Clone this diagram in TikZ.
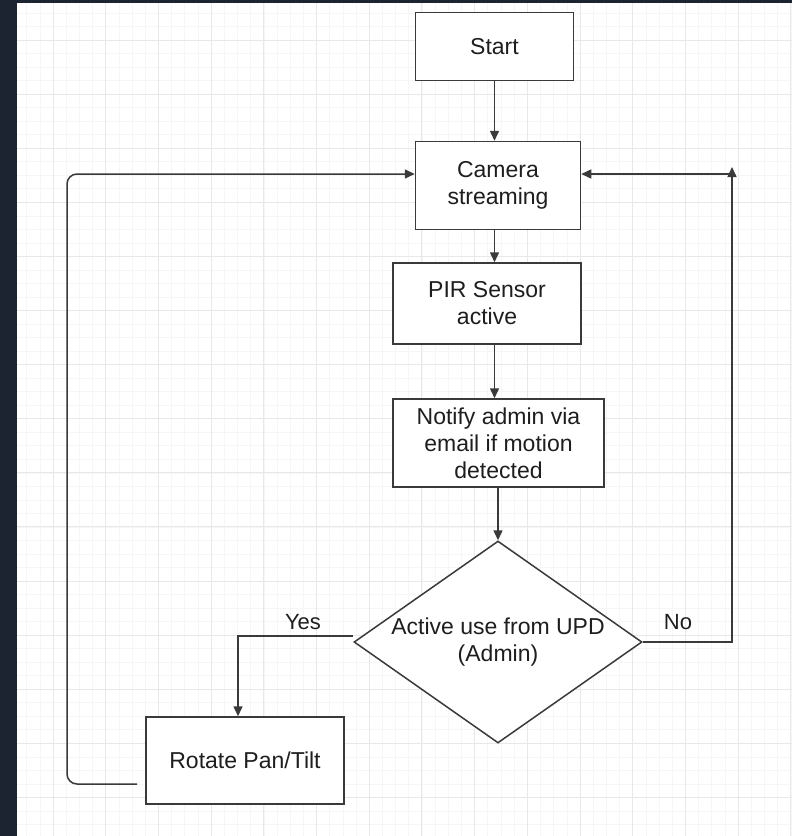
\documentclass[tikz,border=0pt]{standalone}
\usepackage{fontspec}
\setmainfont{Liberation Sans}
\usetikzlibrary{shapes.geometric,arrows.meta}
\definecolor{frame}{HTML}{1C2331}
\definecolor{gridmajor}{HTML}{E8E8E8}
\definecolor{gridminor}{HTML}{F6F6F6}
\definecolor{linecol}{HTML}{3A3A3A}
\definecolor{txt}{HTML}{1E1E1E}
\tikzset{
  box/.style={draw=linecol, line width=1.5pt, fill=white, rectangle, inner sep=0pt,
    align=center, text=txt, font=\fontsize{23}{27}\selectfont},
  decision/.style={draw=linecol, line width=1.5pt, fill=white, diamond, inner sep=0pt,
    align=center, text=txt, font=\fontsize{23}{27}\selectfont,
    minimum width=288pt, minimum height=202pt, aspect=1.426},
  arr/.style={draw=linecol, line width=1.5pt, -{Triangle[length=10pt,width=9pt]}},
  lbl/.style={text=txt, font=\fontsize{22}{26}\selectfont, inner sep=0pt}
}
\begin{document}
\begin{tikzpicture}[x=1pt,y=-1pt]
\useasboundingbox (0,0) rectangle (792,836);
\fill[frame] (0,0) rectangle (792,836);
\fill[white] (17,3) rectangle (792,836);
\begin{scope}
\clip (17,3) rectangle (792,836);
\foreach \i in {-4,...,60} {
  \draw[gridminor, line width=0.6pt] ({53+13.175*\i},3) -- ({53+13.175*\i},836);
  \draw[gridminor, line width=0.6pt] (17,{40+13.525*\i}) -- (792,{40+13.525*\i});
}
\foreach \i in {-1,...,15} {
  \draw[gridmajor, line width=0.9pt] ({53+52.7*\i},3) -- ({53+52.7*\i},836);
  \draw[gridmajor, line width=0.9pt] (17,{40+54.1*\i}) -- (792,{40+54.1*\i});
}
\end{scope}

\node[box, minimum width=158pt, minimum height=68pt] (start) at (494.5,46.5) {Start};
\node[box, minimum width=165pt, minimum height=88pt] (cam) at (498,185.5) {Camera\\streaming};
\node[box, minimum width=188pt, minimum height=81pt] (pir) at (487,303.5) {PIR Sensor\\active};
\node[box, minimum width=211pt, minimum height=88pt] (notify) at (498.5,443) {Notify admin via\\email if motion\\detected};
\node[decision] (dec) at (498,642) {Active use from UPD\\(Admin)};
\node[box, minimum width=198pt, minimum height=87pt] (rot) at (245,760.5) {Rotate Pan/Tilt};

\coordinate (ntop) at (732,167);
\coordinate (nc) at (732,174);
\coordinate (fb) at (137,784);
\coordinate (fl) at (67,174);

\draw[arr] (start.south) -- (start.south |- cam.north);
\draw[arr] (cam.south -| start.south) -- (pir.north -| start.south);
\draw[arr] (pir.south -| start.south) -- (notify.north -| start.south);
\draw[arr] (notify.south -| dec.north) -- (dec.north);
\draw[arr] ([yshift=6pt]dec.west) -| ([xshift=-7pt]rot.north);
\draw[arr] (dec.east) -| (ntop);
\draw[arr] (nc) -- (nc -| cam.east);
\draw[arr, rounded corners=10pt] (fb) -| (fl) -- (fl -| cam.west);

\node[lbl] (yes) at (303,622) {Yes};
\node[lbl] (no) at (678,622) {No};
\end{tikzpicture}
\end{document}
